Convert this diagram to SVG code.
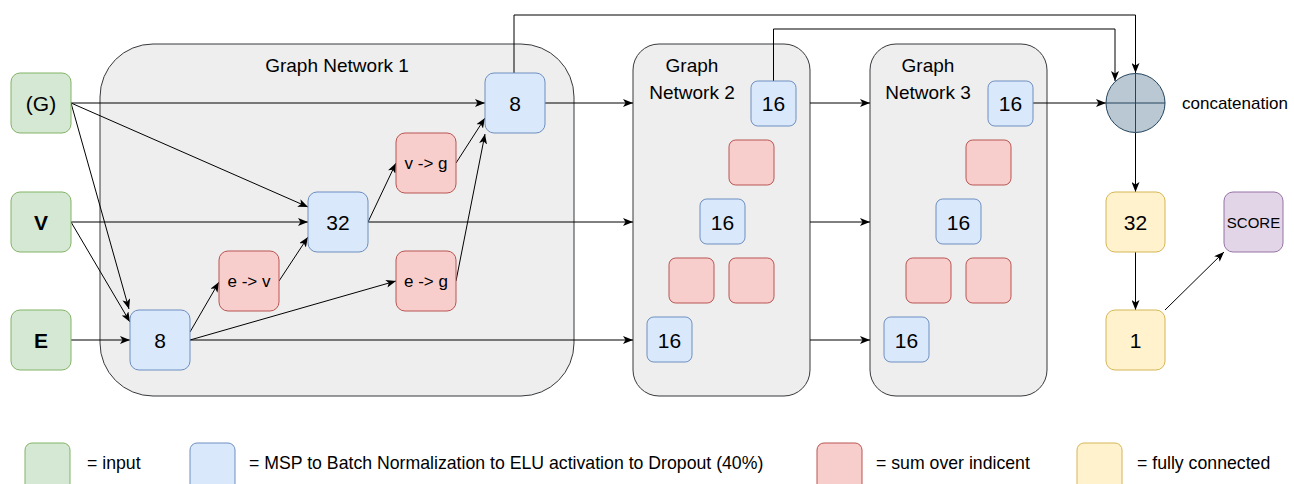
<svg xmlns="http://www.w3.org/2000/svg" width="1294" height="484" viewBox="0 0 1294 484">
<style>
text{font-family:"Liberation Sans",Arial,sans-serif;fill:#000}
.cont{fill:#eeeeee;stroke:#36393d;stroke-width:1}
.in{fill:#d5e8d4;stroke:#82b366}
.bl{fill:#dae8fc;stroke:#6c8ebf}
.rd{fill:#f8cecc;stroke:#b85450}
.yl{fill:#fff2cc;stroke:#d6b656}
.pu{fill:#e1d5e7;stroke:#9673a6}
.lbl{font-size:21px;text-anchor:middle}
.bold{font-weight:bold}
.sm{font-size:17px;text-anchor:middle}
.title{font-size:19px;text-anchor:middle}
.leg{font-size:17.7px}
.cc{font-size:17px}
.e{fill:none;stroke:#000;stroke-width:1;marker-end:url(#arr)}
.el{fill:none;stroke:#23445d;stroke-width:1}
</style>
<defs>
<marker id="arr" markerUnits="userSpaceOnUse" viewBox="0 0 10 8" refX="10" refY="4" markerWidth="10" markerHeight="8" orient="auto">
<path d="M0,0 L10,4 L0,8 L2.5,4 Z" fill="#000"/>
</marker>
</defs>
<rect width="1294" height="484" fill="#ffffff"/>

<g id="gn1"><rect class="cont" x="100" y="44" width="474" height="352" rx="53"/><text class="title" x="337" y="72">Graph Network 1</text></g>
<g id="gn2"><rect class="cont" x="633" y="44" width="177" height="352" rx="26"/><text class="title" x="692" y="72">Graph</text><text class="title" x="692" y="99">Network 2</text></g>
<g id="gn3"><rect class="cont" x="870" y="44" width="177" height="352" rx="26"/><text class="title" x="928" y="72">Graph</text><text class="title" x="928" y="99">Network 3</text></g>

<g id="connectors">
<path class="e" d="M71,103 L485,103"/>
<path class="e" d="M71,103 L308,207"/>
<path class="e" d="M71,103 L129,309"/>
<path class="e" d="M71,222 L308,222"/>
<path class="e" d="M71,222 L130,322"/>
<path class="e" d="M71,340 L130,340"/>
<path class="e" d="M190,332 L219,282"/>
<path class="e" d="M190,340 L396,281"/>
<path class="e" d="M190,340 L633,340"/>
<path class="e" d="M279,281 L308,237"/>
<path class="e" d="M368,222 L396,163"/>
<path class="e" d="M368,222 L633,222"/>
<path class="e" d="M456,163 L485,118"/>
<path class="e" d="M456,281 L485,134"/>
<path class="e" d="M545,103 L633,103"/>
<path class="e" d="M514,73 L514,15 L1135.5,15 L1135.5,73"/>
<path class="e" d="M773.5,81 L773.5,29 L1115,29 L1115,81"/>
<path class="e" d="M810,103 L870,103"/>
<path class="e" d="M810,222 L870,222"/>
<path class="e" d="M810,340 L870,340"/>
<path class="e" d="M1033,103 L1106,103"/>
<path class="e" d="M1135.5,133 L1135.5,192"/>
<path class="e" d="M1135.5,252 L1135.5,310"/>
<path class="e" d="M1165,310 L1224,252"/>
</g>

<g id="G"><rect class="in" x="11" y="73" width="60" height="60" rx="9"/><text class="lbl" x="41" y="110.5">(G)</text></g>
<g id="V"><rect class="in" x="11" y="192" width="60" height="60" rx="9"/><text class="lbl bold" x="41" y="229.5">V</text></g>
<g id="E"><rect class="in" x="11" y="310" width="60" height="60" rx="9"/><text class="lbl bold" x="41" y="347.5">E</text></g>

<g id="n8top"><rect class="bl" x="485" y="73" width="60" height="60" rx="9"/><text class="lbl" x="515" y="110.5">8</text></g>
<g id="vg"><rect class="rd" x="396" y="133" width="60" height="60" rx="9"/><text class="sm" x="426" y="169">v -&gt; g</text></g>
<g id="n32"><rect class="bl" x="308" y="192" width="60" height="60" rx="9"/><text class="lbl" x="338" y="229.5">32</text></g>
<g id="ev"><rect class="rd" x="219" y="251" width="60" height="60" rx="9"/><text class="sm" x="249" y="287">e -&gt; v</text></g>
<g id="eg"><rect class="rd" x="396" y="251" width="60" height="60" rx="9"/><text class="sm" x="426" y="287">e -&gt; g</text></g>
<g id="n8bot"><rect class="bl" x="130" y="310" width="60" height="60" rx="9"/><text class="lbl" x="160" y="347.5">8</text></g>

<g id="g2a"><rect class="bl" x="751" y="81" width="45" height="45" rx="6.75"/><text class="lbl" x="773.5" y="111">16</text></g>
<g id="g2r1"><rect class="rd" x="729" y="140" width="45" height="45" rx="6.75"/></g>
<g id="g2b"><rect class="bl" x="700" y="199" width="45" height="45" rx="6.75"/><text class="lbl" x="722.5" y="229.5">16</text></g>
<g id="g2r2"><rect class="rd" x="669" y="258" width="45" height="45" rx="6.75"/></g>
<g id="g2r3"><rect class="rd" x="729" y="258" width="45" height="45" rx="6.75"/></g>
<g id="g2c"><rect class="bl" x="647" y="317" width="45" height="45" rx="6.75"/><text class="lbl" x="669.5" y="347.5">16</text></g>

<g id="g3a"><rect class="bl" x="988" y="81" width="45" height="45" rx="6.75"/><text class="lbl" x="1010.5" y="111">16</text></g>
<g id="g3r1"><rect class="rd" x="966" y="140" width="45" height="45" rx="6.75"/></g>
<g id="g3b"><rect class="bl" x="936" y="199" width="45" height="45" rx="6.75"/><text class="lbl" x="958.5" y="229.5">16</text></g>
<g id="g3r2"><rect class="rd" x="906" y="258" width="45" height="45" rx="6.75"/></g>
<g id="g3r3"><rect class="rd" x="966" y="258" width="45" height="45" rx="6.75"/></g>
<g id="g3c"><rect class="bl" x="884" y="317" width="45" height="45" rx="6.75"/><text class="lbl" x="906.5" y="347.5">16</text></g>

<g id="concat"><circle cx="1135.5" cy="103" r="29.5" fill="#bac8d3" stroke="#23445d"/><path class="el" d="M1106,103 L1165,103 M1135.5,73.5 L1135.5,132.5"/><text class="cc" x="1182" y="109">concatenation</text></g>
<g id="fc32"><rect class="yl" x="1106" y="192" width="59" height="60" rx="9"/><text class="lbl" x="1135.5" y="229.5">32</text></g>
<g id="fc1"><rect class="yl" x="1106" y="310" width="59" height="60" rx="9"/><text class="lbl" x="1135.5" y="347.5">1</text></g>
<g id="score"><rect class="pu" x="1224" y="192" width="59" height="60" rx="9"/><text x="1253.5" y="227.5" font-size="15" text-anchor="middle">SCORE</text></g>

<g id="legend">
<rect class="in" x="25" y="443" width="45" height="60" rx="7"/><text class="leg" x="87" y="469">= input</text>
<rect class="bl" x="190" y="443" width="45" height="60" rx="7"/><text class="leg" x="249" y="469">= MSP to Batch Normalization to ELU activation to Dropout (40%)</text>
<rect class="rd" x="817" y="443" width="45" height="60" rx="7"/><text class="leg" x="876" y="469">= sum over indicent</text>
<rect class="yl" x="1077" y="443" width="45" height="60" rx="7"/><text class="leg" x="1137" y="469">= fully connected</text>
</g>
</svg>
